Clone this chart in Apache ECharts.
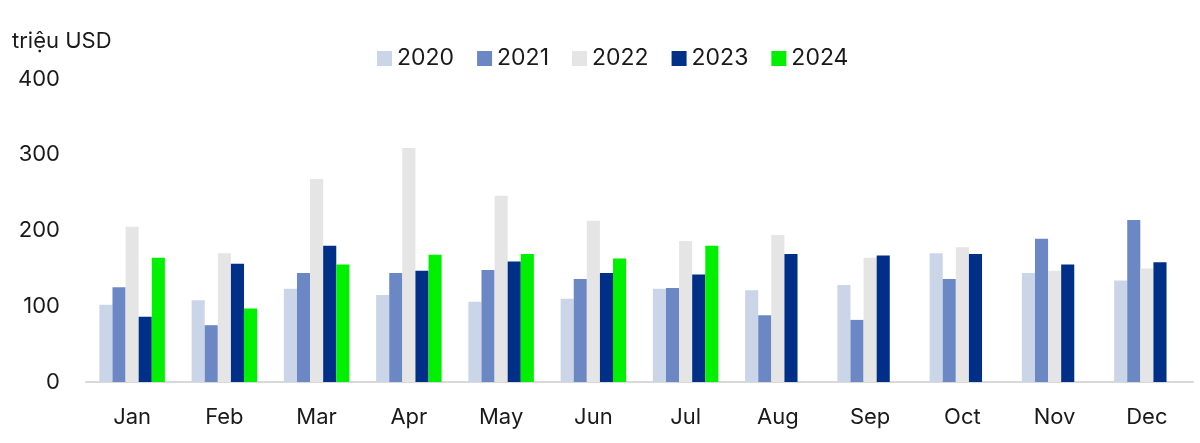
<!DOCTYPE html>
<html>
<head>
<meta charset="utf-8">
<script src="https://cdn.jsdelivr.net/npm/echarts@6/dist/echarts.min.js"></script>
<style>
  html, body { margin: 0; padding: 0; background: #fff; }
  #chart { width: 1200px; height: 443px; }
</style>
</head>
<body>
<div id="chart"></div>
<script>
// Tháng
const months = ['Jan', 'Feb', 'Mar', 'Apr', 'May', 'Jun', 'Jul', 'Aug', 'Sep', 'Oct', 'Nov', 'Dec'];
// triệu USD
const y2020 = [102, 108, 123, 115, 106, 110, 123, 121, 128, 170, 144, 134];
const y2021 = [125, 75, 144, 144, 148, 136, 124, 88, 82, 136, 189, 214];
const y2022 = [205, 170, 268, 309, 246, 213, 186, 194, 164, 178, 147, 150];
const y2023 = [86, 156, 180, 147, 159, 144, 142, 169, 167, 169, 155, 158];
const y2024 = [164, 97, 155, 168, 169, 163, 180, null, null, null, null, null];
const years = ['2020', '2021', '2022', '2023', '2024'];
const yTicks = [0, 100, 200, 300, 400];

const colors = ['#cbd5e8', '#6b88c4', '#e5e5e5', '#002f87', '#00f000'];
const font = 'Inter, "Noto Sans", sans-serif';

let chart = echarts.init(document.getElementById('chart'));

const allData = [y2020, y2021, y2022, y2023, y2024];
const series = years.map((name, i) => ({
  name: name,
  type: 'bar',
  data: allData[i],
  barGap: '0%',
  barCategoryGap: '29%',
  itemStyle: { color: colors[i] },
  animation: false
}));

chart.setOption({
  textStyle: { fontFamily: font },
  grid: { left: 86, right: 7, top: 79, bottom: 61 },
  legend: {
    data: years,
    top: 42,
    left: 372,
    icon: 'rect',
    itemWidth: 15,
    itemHeight: 15,
    itemGap: 23,
    textStyle: { fontSize: 23, color: '#1a1a1a', fontFamily: font }
  },
  graphic: [{
    type: 'text',
    left: 12,
    top: 30,
    style: { text: 'triệu USD', fontSize: 22, fill: '#1a1a1a', fontFamily: font }
  }],
  xAxis: {
    type: 'category',
    data: months,
    axisLine: { lineStyle: { color: '#d9d9d9', width: 2 } },
    axisTick: { show: false },
    axisLabel: { fontSize: 22, color: '#1a1a1a', margin: 24, fontFamily: font }
  },
  yAxis: {
    type: 'value',
    min: yTicks[0],
    max: yTicks[yTicks.length - 1],
    interval: 100,
    splitLine: { show: false },
    axisLine: { show: false },
    axisTick: { show: false },
    axisLabel: { fontSize: 22, color: '#1a1a1a', margin: 26, fontFamily: font }
  },
  series: series
});
</script>
</body>
</html>
